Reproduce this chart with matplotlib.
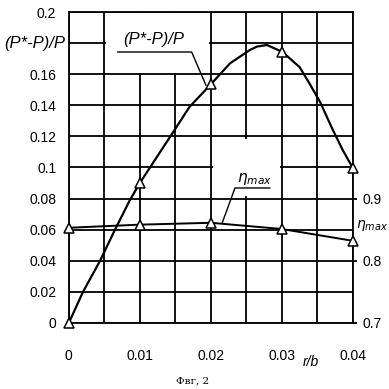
import matplotlib.pyplot as plt
from matplotlib.patches import Rectangle

plt.rcParams['font.family'] = ['Liberation Sans', 'DejaVu Sans']

# data
rb_pts = [0.0, 0.01, 0.02, 0.03, 0.04]
ratio_pts = [0.0, 0.090, 0.154, 0.174, 0.0997]
eta_pts = [0.853, 0.858, 0.861, 0.851, 0.832]

# points read along the smooth (P*-P)/P curve
rb_curve = [0.0, 0.002, 0.0044, 0.0065, 0.0086, 0.01, 0.0147, 0.017, 0.0201,
            0.0227, 0.0255, 0.0265, 0.0279, 0.0301, 0.0325, 0.0339, 0.0354,
            0.0372, 0.0386, 0.04]
ratio_curve = [0.0, 0.02, 0.04, 0.06, 0.079, 0.090, 0.1228, 0.139, 0.154,
               0.167, 0.1756, 0.1778, 0.1788, 0.1743, 0.1646, 0.154, 0.142,
               0.124, 0.111, 0.0997]

x_ticks = [0, 0.01, 0.02, 0.03, 0.04]
x_labels = ["0", "0.01", "0.02", "0.03", "0.04"]
y_ticks = [0, 0.02, 0.04, 0.06, 0.08, 0.1, 0.12, 0.14, 0.16, 0.2]
y_labels = ["0", "0.02", "0.04", "0.06", "0.08", "0.1", "0.12", "0.14", "0.16", "0.2"]
eta_ticks = [0.7, 0.8, 0.9]

fig = plt.figure(figsize=(3.89, 3.89), dpi=100)
ax = fig.add_axes([0.177, 0.170, 0.730, 0.799])
lw = 1.3

ax.set_xlim(0, 0.04)
ax.set_ylim(0, 0.2)
ax.set_xticks(x_ticks)
ax.set_xticklabels(x_labels)
ax.set_xticks([0.005, 0.015, 0.025, 0.035], minor=True)
ax.set_yticks(y_ticks)
ax.set_yticklabels(y_labels)
ax.set_yticks([0.18], minor=True)
ax.tick_params(axis='x', which='both', length=0, pad=19, labelsize=10)
ax.tick_params(axis='y', which='both', length=0, pad=9, labelsize=10)
ax.set_axisbelow(True)
ax.grid(True, which='both', color='black', linewidth=lw)
for s in ax.spines.values():
    s.set_linewidth(lw)

# blank areas in the grid around the labels
ax.add_patch(Rectangle((0.0053, 0.1605), 0.0144, 0.039, facecolor='white',
                       edgecolor='none', zorder=1))
ax.add_patch(Rectangle((0.0203, 0.0815), 0.0094, 0.037, facecolor='white',
                       edgecolor='none', zorder=1))

ax.plot(rb_curve, ratio_curve, color='black', linewidth=1.6, zorder=3)
ax.plot(rb_pts, ratio_pts, linestyle='none', marker='^', markersize=7,
        markerfacecolor='white', markeredgecolor='black', markeredgewidth=1.1,
        zorder=4, clip_on=False)

ax2 = ax.twinx()
ax2.set_ylim(0.7, 1.2)
ax2.set_yticks(eta_ticks)
ax2.tick_params(axis='y', length=3, width=lw, pad=4, labelsize=10)
for s in ax2.spines.values():
    s.set_visible(False)
ax2.plot(rb_pts, eta_pts, color='black', linewidth=1.4, marker='^', markersize=7,
         markerfacecolor='white', markeredgecolor='black', markeredgewidth=1.1,
         zorder=4, clip_on=False)

# labels and leaders
ax.text(-0.00055, 0.18, "(P*-P)/P", ha='right', va='center', fontsize=12, style='italic')
ax.text(0.012, 0.1825, "(P*-P)/P", ha='center', va='center', fontsize=12, style='italic')
ax.plot([0.0069, 0.0173, 0.0193], [0.1743, 0.1743, 0.153], color='black', linewidth=1.0)
ax.text(0.0262, 0.0925, r"$\eta_{max}$", ha='center', va='center', fontsize=11)
ax.plot([0.0283, 0.0234, 0.0216], [0.0868, 0.0868, 0.0643], color='black', linewidth=1.0)
ax.text(1.01, 0.0625, r"$\eta_{max}$", transform=ax.get_yaxis_transform(),
        ha='left', va='center', fontsize=10)
ax.text(0.0341, -0.0205, "r/b", ha='center', va='top', fontsize=10, style='italic')

fig.text(0.494, 0.02, "Фвг, 2", ha='center', va='center', fontsize=7.5, family='DejaVu Serif')

fig.savefig("out.png", dpi=100)
